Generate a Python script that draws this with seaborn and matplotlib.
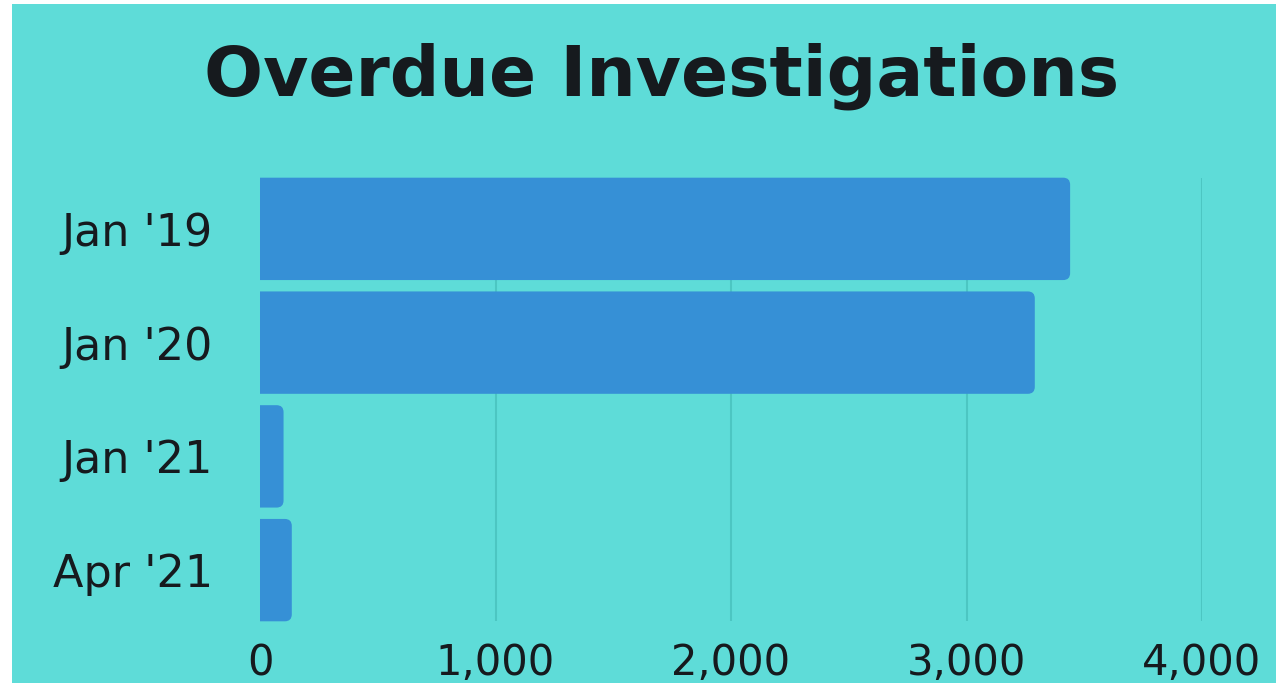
import matplotlib
matplotlib.use("Agg")
import matplotlib.pyplot as plt
import seaborn as sns
import pandas as pd
from matplotlib.patches import FancyBboxPatch, Rectangle

categories = ["Jan '19", "Jan '20", "Jan '21", "Apr '21"]
values = [3440, 3290, 100, 135]
x_ticks = [0, 1000, 2000, 3000, 4000]
x_tick_labels = ["0", "1,000", "2,000", "3,000", "4,000"]
title = "Overdue Investigations"

BG = "#5EDCD8"
BAR = "#3690D6"
GRID = "#4CC6C2"
TEXT = "#161a1e"

sns.set_theme(style="white")
plt.rcParams['font.family'] = ['DejaVu Sans']

W, H = 1278, 687
fig = plt.figure(figsize=(W / 100, H / 100), dpi=100, facecolor="white")
fig.patches.append(Rectangle((12 / W, 4 / H), (1276 - 12) / W, (683 - 4) / H,
                             transform=fig.transFigure, facecolor=BG,
                             edgecolor="none", zorder=-5))
ax = fig.add_axes([260 / W, 60 / H, 942 / W, 455 / H])
ax.patch.set_visible(False)

df = pd.DataFrame({"period": categories, "count": values})
sns.barplot(data=df, x="count", y="period", orient="h", color=BAR,
            width=0.9, saturation=1, ax=ax)

ax.set_xlim(x_ticks[0], x_ticks[-1])
ax.set_ylim(len(categories) - 0.5, -0.5)

# rounded right corners
fig.canvas.draw()
p0 = ax.transData.transform((0, 0))
p1 = ax.transData.transform((1, 1))
sx = abs(p1[0] - p0[0])
sy = abs(p1[1] - p0[1])
r_px = 7
rx = r_px / sx
ry = r_px / sy
for bar in list(ax.patches):
    x, y, w, h = bar.get_x(), bar.get_y(), bar.get_width(), bar.get_height()
    fb = FancyBboxPatch((x - rx, y), w + rx, h,
                        boxstyle=f"round,pad=0,rounding_size={rx}",
                        mutation_aspect=ry / rx, facecolor=BAR,
                        edgecolor="none", zorder=3)
    bar.remove()
    ax.add_patch(fb)

ax.vlines(x_ticks[1:], -0.45, len(categories) - 0.55, color=GRID, lw=1.5, zorder=1)

ax.set_xticks(x_ticks, x_tick_labels)
ax.tick_params(axis="x", length=0, pad=11, labelsize=30, labelcolor=TEXT)
ax.tick_params(axis="y", length=0, pad=34, labelsize=32, labelcolor=TEXT)
ax.set_xlabel("")
ax.set_ylabel("")
for s in ax.spines.values():
    s.set_visible(False)
ax.grid(False)

fig.text(662 / W, 1 - 96 / H, title, ha="center", va="baseline",
         fontsize=50, fontweight="bold", color=TEXT)

fig.savefig("out.png", dpi=100, facecolor=fig.get_facecolor())
